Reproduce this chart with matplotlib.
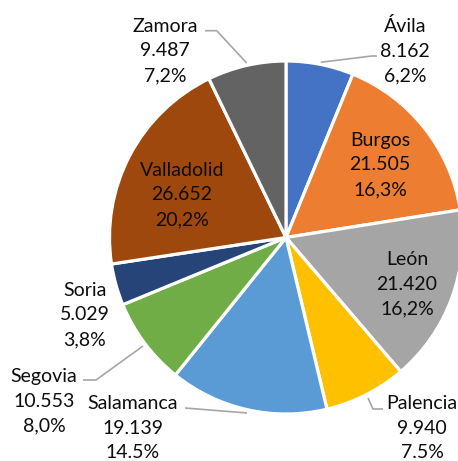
import matplotlib.pyplot as plt

plt.rcParams['font.family'] = ['Lato', 'DejaVu Sans']

# ── data ─────────────────────────────────────────────────────────────
provincias = ["Ávila", "Burgos", "León", "Palencia", "Salamanca",
              "Segovia", "Soria", "Valladolid", "Zamora"]
valores = [8162, 21505, 21420, 9940, 19139, 10553, 5029, 26652, 9487]
valores_txt = ["8.162", "21.505", "21.420", "9.940", "19.139",
               "10.553", "5.029", "26.652", "9.487"]
porcentajes = ["6,2%", "16,3%", "16,2%", "7.5%", "14.5%",
               "8,0%", "3,8%", "20,2%", "7,2%"]
colores = ["#4472C4", "#ED7D31", "#A5A5A5", "#FFC000", "#5B9BD5",
           "#70AD47", "#264478", "#9E480E", "#636363"]

# label anchors (pixel coords, y from top) and leader lines
pos_etiquetas = {
    "Ávila": (405, 51), "Burgos": (380, 165), "León": (407, 284),
    "Palencia": (422, 428), "Salamanca": (133, 428), "Segovia": (44, 401),
    "Soria": (85, 315), "Valladolid": (182, 195), "Zamora": (165, 51),
}
guias = {
    "Zamora": [(246.7, 63), (216.7, 30.7), (205, 30.7)],
    "Ávila": [(320.7, 62.3), (371.7, 56), (377, 56)],
    "Palencia": [(368, 398), (373, 409), (383, 409)],
    "Salamanca": [(247, 413), (185, 408)],
    "Segovia": [(143, 346), (96, 380), (83, 380)],
}

W, H = 458, 461
fig = plt.figure(figsize=(W / 100, H / 100), dpi=100)
ax = fig.add_axes([0, 0, 1, 1])

ax.pie(valores, colors=colores, startangle=90, counterclock=False,
       center=(286, H - 237.5), radius=176.5,
       wedgeprops=dict(edgecolor='white', linewidth=2.3))

ax.set_xlim(0, W)
ax.set_ylim(0, H)
ax.set_aspect('equal')
ax.axis('off')

for nombre, pts in guias.items():
    xs = [p[0] for p in pts]
    ys = [H - p[1] for p in pts]
    ax.plot(xs, ys, color='#A6A6A6', linewidth=1.2, solid_capstyle='butt')

for nombre, v, p in zip(provincias, valores_txt, porcentajes):
    x, y = pos_etiquetas[nombre]
    ax.text(x, H - y, f"{nombre}\n{v}\n{p}", ha='center', va='center',
            fontsize=14, color='#0D0D0D', linespacing=1.55)

plt.savefig("out.png", dpi=100)
